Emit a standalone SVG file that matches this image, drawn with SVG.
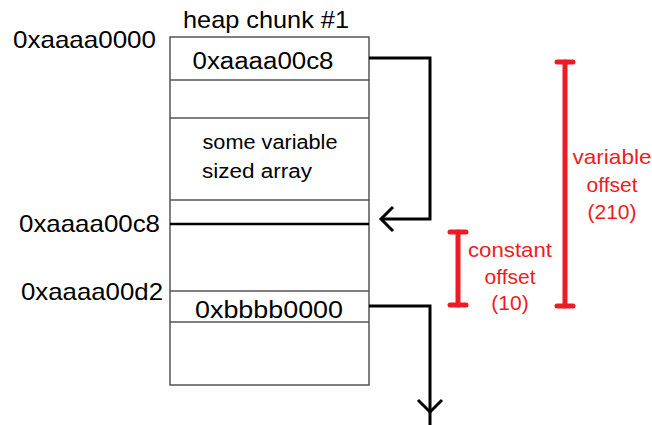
<svg xmlns="http://www.w3.org/2000/svg" width="652" height="425" viewBox="0 0 652 425">
  <style>
    .t { font-family: "Liberation Sans", Arial, sans-serif; fill: #000; }
    .addr { font-size: 24px; }
    .cell { font-size: 23px; text-anchor: middle; }
    .small { font-size: 20px; text-anchor: middle; }
    .red { font-family: "Liberation Sans", Arial, sans-serif; fill: #ed1c24; font-size: 21px; text-anchor: middle; }
    .box { fill: #fff; stroke: #555; stroke-width: 1.5; }
    .row { stroke: #555; stroke-width: 1.5; }
    .conn { fill: none; stroke: #000; stroke-width: 3; stroke-linejoin: miter; }
    .bar { fill: none; stroke: #ed1c24; stroke-width: 5; stroke-linecap: round; }
  </style>

  <!-- heap chunk with its rows -->
  <g id="heap-chunk">
    <text class="t" x="266" y="28" font-size="24" text-anchor="middle" textLength="166" lengthAdjust="spacingAndGlyphs">heap chunk #1</text>
    <rect class="box" x="170" y="37" width="199" height="348"/>
    <line class="row" x1="170" y1="80" x2="369" y2="80"/>
    <line class="row" x1="170" y1="118" x2="369" y2="118"/>
    <line class="row" x1="170" y1="200" x2="369" y2="200"/>
    <line class="row" x1="170" y1="291" x2="369" y2="291"/>
    <line class="row" x1="170" y1="322" x2="369" y2="322"/>
    <line x1="170" y1="224" x2="369" y2="224" stroke="#000" stroke-width="2.5"/>
    <text class="t cell" x="263" y="69" textLength="141" lengthAdjust="spacingAndGlyphs">0xaaaa00c8</text>
    <text class="t small" x="270" y="149" textLength="135" lengthAdjust="spacingAndGlyphs">some variable</text>
    <text class="t small" x="257" y="178" textLength="110" lengthAdjust="spacingAndGlyphs">sized array</text>
    <text class="t cell" x="269" y="318" textLength="148" lengthAdjust="spacingAndGlyphs">0xbbbb0000</text>
  </g>

  <!-- address labels -->
  <g id="addr-0000">
    <text class="t addr" x="13" y="48" textLength="143" lengthAdjust="spacingAndGlyphs">0xaaaa0000</text>
  </g>
  <g id="addr-00c8">
    <text class="t addr" x="19" y="232" textLength="141" lengthAdjust="spacingAndGlyphs">0xaaaa00c8</text>
  </g>
  <g id="addr-00d2">
    <text class="t addr" x="21" y="300" textLength="142" lengthAdjust="spacingAndGlyphs">0xaaaa00d2</text>
  </g>

  <!-- pointer connectors -->
  <g id="connectors">
    <polyline class="conn" points="369,58 430,58 430,219 381,219"/>
    <polyline class="conn" points="393,207 381,219 393,231"/>
    <polyline class="conn" points="369,306 430,306 430,425"/>
    <polyline class="conn" points="418,400 430,412 442,400"/>
  </g>

  <!-- offset brackets -->
  <g id="variable-offset">
    <line class="bar" x1="565" y1="62" x2="565" y2="306"/>
    <line class="bar" x1="557" y1="62" x2="573" y2="62"/>
    <line class="bar" x1="557" y1="306" x2="573" y2="306"/>
    <text class="red" x="612" y="164" textLength="79" lengthAdjust="spacingAndGlyphs">variable</text>
    <text class="red" x="612" y="192">offset</text>
    <text class="red" x="612" y="219">(210)</text>
  </g>
  <g id="constant-offset">
    <line class="bar" x1="458" y1="232" x2="458" y2="305"/>
    <line class="bar" x1="450" y1="232" x2="466" y2="232"/>
    <line class="bar" x1="450" y1="305" x2="466" y2="305"/>
    <text class="red" x="510" y="257" textLength="84" lengthAdjust="spacingAndGlyphs">constant</text>
    <text class="red" x="510" y="284">offset</text>
    <text class="red" x="510" y="310">(10)</text>
  </g>
</svg>
